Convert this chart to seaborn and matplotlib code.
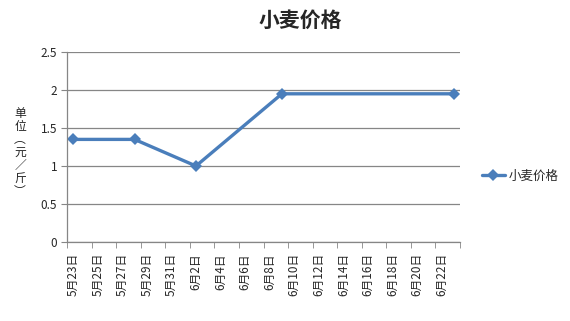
import matplotlib
matplotlib.use("Agg")
import matplotlib.pyplot as plt
import seaborn as sns
import pandas as pd
import numpy as np
from matplotlib.ticker import FixedLocator

# data
dates = ["2016-05-23", "2016-05-28", "2016-06-02", "2016-06-09", "2016-06-23"]
prices = [1.35, 1.35, 1.0, 1.95, 1.95]
tick_labels = ["5月23日", "5月25日", "5月27日", "5月29日", "5月31日", "6月2日", "6月4日",
               "6月6日", "6月8日", "6月10日", "6月12日", "6月14日", "6月16日", "6月18日",
               "6月20日", "6月22日"]
series_name = "小麦价格"
title = "小麦价格"
ylabel_chars = ["单", "位", "︵", "元", "／", "斤", "︶"]

sns.set_style("white")
plt.rcParams['font.family'] = ['Noto Sans CJK SC', 'DejaVu Sans']

d = pd.to_datetime(dates)
start = d[0]
df = pd.DataFrame({"day": (d - start).days, "price": prices, "series": series_name})

fig = plt.figure(figsize=(5.7, 3.21), dpi=100)
ax = fig.add_axes([67/570, 1-242/321, (460-67)/570, (242-52)/321])

color = "#4A7EBB"
sns.lineplot(data=df, x="day", y="price", hue="series", palette=[color], ax=ax,
             marker="D", markersize=6, linewidth=2.4, markeredgewidth=0)

ndays = 32
ax.set_xlim(-0.5, ndays - 0.5)
ax.set_ylim(0, 2.5)
ax.set_yticks(np.arange(0, 2.51, 0.5))
ax.set_yticklabels(["0", "0.5", "1", "1.5", "2", "2.5"])
ax.set_xticks(np.arange(0, 2 * len(tick_labels), 2))
ax.set_xticklabels(tick_labels, rotation=90, fontsize=8.5)
ax.xaxis.set_minor_locator(FixedLocator(np.arange(-0.5, ndays, 2)))
ax.tick_params(axis="x", which="major", length=0, pad=8)
ax.tick_params(axis="x", which="minor", length=4, color="#868686", direction="out", bottom=True)
ax.tick_params(axis="y", length=4, color="#868686", direction="out", left=True, labelsize=8.5, pad=3)
ax.grid(axis="y", color="#868686", linewidth=0.9)
ax.set_axisbelow(True)
for s in ["top", "right"]:
    ax.spines[s].set_visible(False)
for s in ["left", "bottom"]:
    ax.spines[s].set_color("#868686")
    ax.spines[s].set_linewidth(0.9)
ax.set_xlabel("")
ax.set_ylabel("")

leg = ax.legend(loc="center left", bbox_to_anchor=(482/570, 1-176/321),
                bbox_transform=fig.transFigure, frameon=False, fontsize=9,
                handlelength=1.8, handletextpad=0.3, borderpad=0, borderaxespad=0)

fig.text(300/570, 1-20/321, title, ha="center", va="center", fontsize=15, fontweight="bold")
fig.text(20/570, 1-152/321, "\n".join(ylabel_chars), ha="center", va="center",
         fontsize=8.5, linespacing=1.0, color="#222222")

fig.savefig("out.png", dpi=100)
